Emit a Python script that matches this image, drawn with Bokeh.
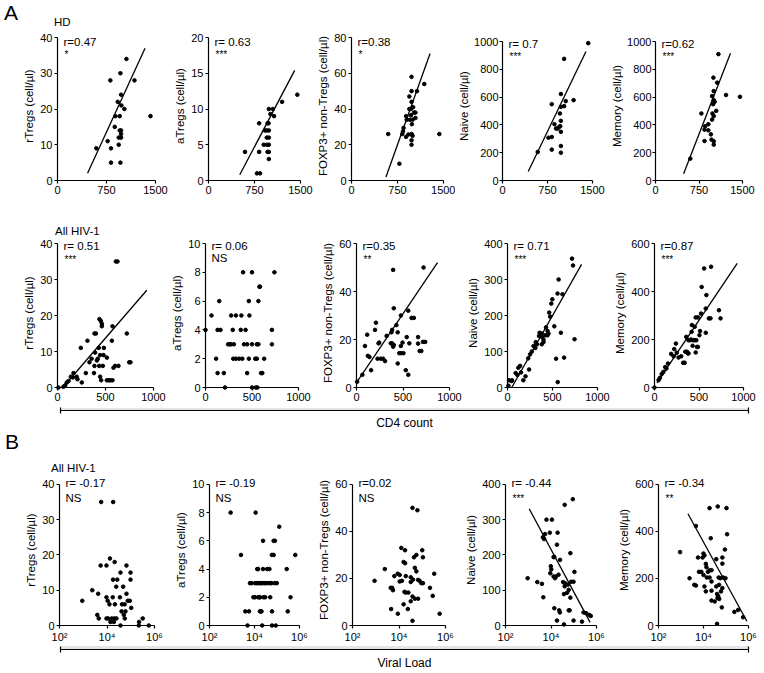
from bokeh.plotting import figure
from bokeh.layouts import row, column
from bokeh.models import Range1d, FixedTicker, Label, CustomJSTickFormatter, Div
from bokeh.embed import file_html
from bokeh.resources import INLINE

FONT = "Liberation Sans"

# ---------------- data ----------------
ylabels = ["rTregs (cell/µl)", "aTregs (cell/µl)", "FOXP3+ non-Tregs (cell/µl)",
           "Naive (cell/µl)", "Memory (cell/µl)"]
xticks_hd = [0, 750, 1500]
xticks_hiv = [0, 500, 1000]
xticks_vl = [1e2, 1e4, 1e6]
yticks_hd = [[0, 10, 20, 30, 40], [0, 5, 10, 15, 20], [0, 20, 40, 60, 80],
             [0, 200, 400, 600, 800, 1000], [0, 200, 400, 600, 800, 1000]]
yticks_hiv = [[0, 10, 20, 30, 40], [0, 2, 4, 6, 8, 10], [0, 20, 40, 60],
              [0, 100, 200, 300, 400], [0, 200, 400, 600]]

r_hd = ["r=0.47", "r= 0.63", "r=0.38", "r= 0.7", "r=0.62"]
sig_hd = ["*", "***", "*", "***", "***"]
r_cd4 = ["r= 0.51", "r= 0.06", "r=0.35", "r= 0.71", "r=0.87"]
sig_cd4 = ["***", "NS", "**", "***", "***"]
r_vl = ["r= -0.17", "r= -0.19", "r=0.02", "r= -0.44", "r= -0.34"]
sig_vl = ["NS", "NS", "NS", "***", "**"]

# HD: (CD4 count, cells/ul)
hd_rtregs = [(1055, 34), (809, 28), (1178, 28), (963, 30), (973, 24), (922, 22), (978, 21), (1024, 20),
             (886, 18), (952, 18), (1423, 18), (876, 15), (952, 14), (973, 14), (973, 13), (937, 12),
             (973, 12), (937, 10), (768, 11), (594, 9), (819, 9), (819, 5), (963, 5)]
hd_atregs = [(1448, 12), (1200, 11), (984, 10), (1050, 10), (1010, 9.3), (1069, 9), (826, 8), (963, 8),
             (980, 8), (920, 7), (950, 7), (984, 7), (950, 6), (984, 6), (900, 5), (950, 5), (984, 5),
             (595, 4), (826, 4), (963, 4), (984, 4), (984, 3), (790, 1), (840, 1)]
hd_foxp3 = [(979, 58), (979, 50), (1068, 50), (1187, 54), (943, 47), (979, 44), (943, 40), (969, 40),
            (1005, 41), (1020, 38), (1042, 38), (969, 36.5), (890, 36), (900, 34), (950, 34), (995, 34),
            (1042, 35), (984, 31.5), (849, 29.4), (839, 27.5), (979, 26), (995, 25), (828, 26),
            (927, 25.7), (890, 24.4), (599, 26), (1432, 26), (979, 22.5), (979, 20), (781, 9.4)]
hd_naive = [(1429, 988), (1027, 875), (821, 549), (973, 622), (1185, 578), (1054, 571), (1027, 535),
            (973, 530), (957, 482), (973, 429), (866, 405), (893, 374), (920, 374), (946, 386),
            (962, 391), (766, 308), (821, 313), (973, 350), (973, 248), (821, 222), (973, 200), (587, 205)]
hd_memory = [(1085, 909), (998, 740), (1064, 704), (1216, 615), (1456, 602), (1004, 643), (976, 607),
             (1004, 578), (1020, 566), (993, 549), (791, 482), (982, 482), (1004, 463), (1047, 501),
             (976, 438), (911, 405), (845, 366), (856, 390), (911, 361), (955, 332), (966, 294),
             (845, 284), (1004, 282), (1004, 258), (600, 157)]

# All HIV-1 vs CD4 count
cd4_rtregs = [(608, 35), (625, 35), (437, 19), (451, 18.5), (462, 17.7), (462, 17), (573, 17), (722, 15),
              (385, 15), (400, 15), (566, 13), (312, 13), (243, 11), (430, 11), (483, 11), (392, 9.7),
              (444, 9), (479, 9), (333, 7), (355, 8), (385, 6), (410, 7.5), (514, 8.3), (747, 7),
              (760, 7), (600, 6), (635, 6), (583, 5.5), (434, 6), (472, 6), (295, 4), (444, 3),
              (455, 2), (514, 2), (535, 2), (552, 2), (573, 2), (167, 4), (200, 3), (139, 3),
              (160, 2.8), (115, 1.8), (97, 1.4), (80, 0.6), (253, 1.4), (208, 2.3), (62, 0.2),
              (10, 0), (380, 4), (420, 8)]
cd4_atregs = [(0, 4), (65, 5), (148, 6), (130, 4), (161, 4), (114, 2), (130, 1), (197, 1), (210, 0),
              (276, 5), (327, 5), (386, 5), (472, 5), (293, 4), (379, 4), (431, 4), (243, 3), (260, 3),
              (276, 3), (305, 3), (414, 3), (448, 3), (500, 3), (552, 3), (298, 2), (327, 2), (362, 2),
              (396, 2), (466, 2), (535, 2), (466, 6), (569, 6), (448, 1), (404, 8), (580, 7), (500, 8),
              (741, 8), (586, 7), (714, 4), (569, 3), (714, 3), (552, 2), (631, 2), (597, 1), (611, 1),
              (500, 0), (541, 0), (558, 0)]
cd4_foxp3 = [(721, 50), (394, 49), (401, 33), (557, 32), (477, 30), (209, 27), (199, 24), (376, 23),
             (383, 24), (617, 29), (592, 29), (429, 26), (443, 23), (115, 22), (237, 18.4), (244, 18.7),
             (369, 18.4), (383, 18.4), (495, 18.7), (477, 17.3), (91, 17.3), (540, 21), (568, 18.4),
             (662, 21), (662, 18.3), (122, 13.2), (139, 12.7), (226, 12), (286, 12), (307, 11),
             (460, 14.3), (480, 14.3), (505, 14.3), (679, 15.2), (697, 15.2), (714, 19), (739, 19),
             (443, 10), (530, 7.2), (557, 5.3), (157, 7.2), (63, 5.3), (7, 2.4), (394, 17), (401, 17.7),
             (324, 21.5), (260, 12)]
cd4_naive = [(717, 358), (728, 339), (568, 300), (611, 259), (556, 261), (498, 245), (487, 233),
             (463, 208), (474, 197), (357, 152), (370, 145), (385, 140), (350, 143), (400, 133),
             (420, 145), (445, 145), (455, 150), (289, 115), (314, 126), (251, 92), (230, 81), (150, 42),
             (110, 35), (200, 31), (240, 50), (18, 20), (50, 20), (540, 80), (629, 83), (558, 15),
             (745, 134), (593, 152), (428, 167), (445, 157), (381, 120), (400, 126), (328, 120),
             (176, 20), (46, 18), (10, 5), (140, 60), (120, 55), (90, 40), (270, 100), (310, 110),
             (520, 170), (380, 150)]
cd4_memory = [(636, 503), (558, 496), (530, 419), (583, 385), (724, 322), (742, 288), (576, 329),
              (611, 288), (629, 288), (523, 308), (463, 292), (488, 292), (417, 232), (452, 253),
              (382, 197), (399, 197), (435, 197), (452, 197), (470, 197), (512, 235), (477, 169),
              (488, 169), (428, 174), (346, 149), (364, 149), (375, 142), (382, 142), (463, 146),
              (322, 103), (339, 103), (240, 183), (222, 160), (215, 130), (250, 145), (187, 140),
              (152, 100), (134, 79), (99, 65), (81, 56), (46, 31), (0, 0), (576, 228), (505, 218),
              (357, 211), (300, 130), (270, 125), (420, 260), (410, 200), (120, 85), (60, 40)]

# All HIV-1 vs viral load
vl_rtregs = [(5690, 35), (18200, 35), (5400, 17), (9500, 17), (13300, 19), (21000, 18), (66000, 17),
             (98000, 15), (37000, 15), (18000, 13), (27000, 13), (98000, 13), (24500, 11), (48000, 11),
             (2400, 10), (4260, 9), (9500, 8), (10700, 7), (17400, 8), (66000, 9), (75000, 7),
             (91000, 7), (105000, 5), (910, 7), (12700, 6), (21500, 6), (43000, 6), (55000, 6),
             (41000, 4), (51000, 3), (56000, 2), (3900, 3), (4500, 2), (9500, 2), (11200, 2),
             (15900, 2), (20700, 2), (25000, 2), (14000, 1), (19400, 1), (37000, 0), (224000, 1),
             (320000, 2), (218000, 0), (575000, 0), (60000, 4), (35000, 8)]
vl_atregs = [(870, 8), (11200, 8), (2500, 5), (13200, 4), (6300, 3), (7400, 3), (10500, 3), (12500, 3),
             (14800, 3), (17400, 3), (8900, 2), (10500, 2), (17400, 2), (3900, 1), (5700, 1), (17400, 1),
             (4900, 0), (126000, 7), (24000, 6), (71000, 6), (81000, 6), (59000, 5), (71000, 5),
             (650000, 5), (14500, 4), (24000, 4), (36500, 4), (46000, 4), (270000, 4), (20000, 3),
             (23000, 3), (29000, 3), (32000, 3), (40000, 3), (50000, 3), (57000, 3), (79000, 3),
             (98000, 3), (14500, 2), (17000, 2), (25000, 2), (30000, 2), (50000, 2), (400000, 2),
             (19000, 1), (20500, 1), (60000, 1), (300000, 1), (22000, 0), (60000, 0), (88000, 0)]
vl_foxp3 = [(38000, 50), (62000, 49), (12600, 33), (18200, 32), (100000, 32), (107000, 29), (44000, 29),
            (56000, 30), (15800, 27), (18300, 26.5), (2450, 24), (48000, 24.5), (56000, 23),
            (327000, 22), (8800, 22), (10700, 21.5), (6300, 21), (19500, 21), (32000, 20.5),
            (66000, 19.4), (77000, 19), (890, 19), (13400, 19), (10700, 18.7), (32000, 18.5),
            (40000, 19.5), (91000, 18), (107000, 18), (4400, 16), (5100, 16), (215000, 16), (5500, 15),
            (17200, 14.3), (19500, 14), (25300, 14), (282000, 12.6), (38000, 12.3), (48000, 11.4),
            (66000, 11.4), (32000, 10.3), (15800, 9), (4600, 7), (24000, 7), (8900, 5), (560000, 5),
            (38000, 2)]
vl_naive = [(91000, 358), (40000, 342), (6300, 300), (11000, 300), (8900, 263), (5500, 259), (5000, 245),
            (4400, 250), (19500, 263), (18300, 229), (13000, 194), (14000, 194), (25000, 186),
            (71000, 205), (9800, 168), (10300, 159), (9300, 148), (13000, 139), (16600, 139),
            (15000, 134), (21500, 144), (107000, 152), (34000, 123), (41000, 120), (77000, 124),
            (98000, 124), (940, 134), (2500, 123), (4000, 118), (40000, 111), (56000, 116), (60000, 101),
            (51000, 93), (37000, 89), (71000, 79), (4600, 80), (14000, 49), (23000, 43), (24500, 37),
            (60000, 43), (66000, 43), (270000, 37), (345000, 35), (480000, 30), (560000, 27),
            (18300, 14), (98000, 14), (230000, 11), (37000, 3)]
vl_memory = [(18600, 499), (43000, 506), (105000, 499), (112000, 388), (4600, 423), (910, 312),
             (21000, 371), (89000, 323), (9100, 289), (10000, 306), (11000, 298), (5700, 289),
             (69000, 289), (37000, 282), (12700, 262), (13500, 248), (69000, 263), (18600, 235),
             (22700, 235), (15800, 228), (6300, 228), (8000, 228), (10000, 215), (14000, 204),
             (18600, 204), (2400, 201), (47000, 204), (56000, 201), (75000, 204), (95000, 201),
             (3900, 173), (4600, 170), (11000, 166), (12700, 145), (22700, 187), (37000, 166),
             (49000, 173), (69000, 159), (60000, 145), (22700, 148), (40000, 134), (45000, 125),
             (42000, 117), (50000, 113), (22700, 106), (31600, 102), (65000, 77), (235000, 58),
             (346000, 66), (575000, 35), (40000, 7)]

# regression line end points: (x pair, y pair)
fit_hd = [([460, 1340], [2, 37]), ([510, 1405], [0.8, 15.4]), ([562, 1281], [2, 71]),
          ([429, 1391], [65, 928]), ([485, 1293], [48, 916])]
fit_cd4 = [([55, 930], [0, 27]), None, ([0, 871], [2, 52]), ([47, 823], [0, 342]), ([28, 929], [19, 517])]
fit_vl = [None, None, None, ([1100, 525000], [331, 9]), ([2040, 850000], [475, 18])]

# ---------------- layout geometry ----------------
# (width, height, left, right, bottom, axis height in px)
geo_r1 = [(171, 171, 57, 16, 22, 143), (143, 171, 34, 14, 22, 143), (141, 171, 34, 12, 22, 143),
          (153, 171, 43, 16, 22, 139), (154, 171, 43, 20, 22, 139)]
geo_r2 = [(168, 169, 57, 15, 20, 144), (151, 169, 34, 21, 20, 144), (145, 169, 34, 15, 20, 144),
          (147, 169, 38, 14, 20, 144), (151, 169, 38, 19, 20, 144)]
geo_r3 = [(172, 171, 59, 18, 18, 143), (143, 171, 34, 16, 18, 143), (147, 171, 34, 17, 18, 143),
          (153, 171, 38, 19, 18, 143), (147, 171, 38, 14, 18, 143)]

SUP = CustomJSTickFormatter(code="""
const e = Math.round(Math.log10(tick));
const s = {2: '\u00b2', 3: '\u00b3', 4: '\u2074', 5: '\u2075', 6: '\u2076'};
return '10' + (s[e] || '');
""")


def style_axis(ax, s1=2, s2=2):
    ax.axis_line_color = "black"
    ax.axis_line_width = 1.2
    ax.major_tick_line_color = "black"
    ax.major_tick_line_width = 1.2
    ax.major_tick_in = 0
    ax.major_tick_out = 3
    ax.minor_tick_line_color = None
    ax.major_label_text_font = FONT
    ax.major_label_text_font_size = "11px"
    ax.major_label_text_color = "black"
    ax.major_label_standoff = s1
    ax.axis_label_text_font = FONT
    ax.axis_label_text_font_size = "11.5px"
    ax.axis_label_text_font_style = "normal"
    ax.axis_label_text_color = "black"
    ax.axis_label_standoff = s2


def add_text(p, x, y, text, size="11.5px"):
    p.add_layout(Label(x=x, y=y, x_units="screen", y_units="screen", text=text,
                       text_font=FONT, text_font_size=size, text_color="black",
                       text_baseline="middle", text_align="left"))


def make_panel(geo, xr, xt, xlog, yt, ylab, pts, fit, rtxt, sig, r_y, a_y, n_y, std=2):
    w, h, l, r, b, ax_px = geo
    fh = h - b
    ytop = yt[-1] * fh / ax_px          # frame reaches a little above the top tick
    p = figure(width=w, height=h, title=None, output_backend="svg", toolbar_location=None,
               x_axis_type="log" if xlog else "linear",
               x_range=Range1d(*xr), y_range=Range1d(yt[0], ytop),
               min_border_left=l, min_border_right=r, min_border_top=0, min_border_bottom=b)
    p.outline_line_color = None
    p.xgrid.visible = False
    p.ygrid.visible = False
    p.background_fill_color = "white"
    p.border_fill_color = "white"
    if fit is not None:
        p.line(fit[0], fit[1], line_color="black", line_width=1.3)
    p.scatter([q[0] for q in pts], [q[1] for q in pts], size=3.6, color="black",
              line_color="black", level="overlay")
    style_axis(p.xaxis[0])
    style_axis(p.yaxis[0], std, std)
    p.xaxis.ticker = FixedTicker(ticks=xt)
    if xlog:
        p.xaxis.formatter = SUP
    p.yaxis.ticker = FixedTicker(ticks=yt)
    p.yaxis.bounds = (yt[0], yt[-1])
    p.yaxis.axis_label = ylab
    add_text(p, 6, r_y, rtxt)
    if sig == "NS":
        add_text(p, 6, n_y, sig)
    else:
        add_text(p, 7, a_y, sig, "10px")
    return p


def make_bracket(w, h, l, r, fh, label, std):
    p = figure(width=w, height=h, title=None, output_backend="svg", toolbar_location=None,
               x_range=Range1d(0, 1), y_range=Range1d(0, 1), y_axis_location=None,
               min_border_left=l, min_border_right=r, min_border_top=0, min_border_bottom=h - fh)
    p.outline_line_color = None
    p.background_fill_color = "white"
    p.border_fill_color = "white"
    p.xgrid.visible = False
    ax = p.xaxis[0]
    style_axis(ax, 0, std)
    ax.ticker = FixedTicker(ticks=[], minor_ticks=[0, 1])
    ax.major_tick_line_color = None
    ax.minor_tick_line_color = "black"
    ax.minor_tick_line_width = 1.2
    ax.minor_tick_in = 3
    ax.minor_tick_out = 3
    ax.axis_label = label
    ax.axis_label_text_font_size = "12px"
    return p


def text_div(w, h, items):
    spans = "".join(
        f'<span style="position:absolute;left:{x}px;top:{y}px;font-family:\'{FONT}\';'
        f'font-size:{s}px;line-height:1;color:#000;white-space:nowrap;">{t}</span>'
        for (t, x, y, s) in items)
    html = f'<div style="position:relative;width:{w}px;height:{h}px;overflow:visible;">{spans}</div>'
    return Div(text=html, width=w, height=h, margin=(0, 0, 0, 0))


# ---- row 1: HD (frame bottom at 180) ----
row1 = []
for i in range(5):
    std = 1 if i >= 3 else 2
    r_y = 139 if i < 3 else 137
    a_y = 126 if i < 3 else 124
    row1.append(make_panel(geo_r1[i], (0, 1500), xticks_hd, False, yticks_hd[i], ylabels[i],
                           [hd_rtregs, hd_atregs, hd_foxp3, hd_naive, hd_memory][i], fit_hd[i],
                           r_hd[i], sig_hd[i], r_y, a_y, 126, std))

# ---- row 2: All HIV-1 vs CD4 (frame bottom at 387) ----
row2 = []
for i in range(5):
    row2.append(make_panel(geo_r2[i], (0, 1000), xticks_hiv, False, yticks_hiv[i], ylabels[i],
                           [cd4_rtregs, cd4_atregs, cd4_foxp3, cd4_naive, cd4_memory][i], fit_cd4[i],
                           r_cd4[i], sig_cd4[i], 141.5, 128, 129.2))

# ---- row 3: All HIV-1 vs viral load (frame bottom at 627) ----
row3 = []
for i in range(5):
    row3.append(make_panel(geo_r3[i], (1e2, 1e6), xticks_vl, True, yticks_hiv[i], ylabels[i],
                           [vl_rtregs, vl_atregs, vl_foxp3, vl_naive, vl_memory][i], fit_vl[i],
                           r_vl[i], sig_vl[i], 142.7, 127.5, 128))

W = 762
head1 = text_div(W, 31, [("A", 4, 2.3, 21), ("HD", 54, 17.4, 11.5)])
head2 = text_div(W, 36, [("All HIV-1", 55, 24.4, 11.5)])
head3 = text_div(W, 42, [("B", 5, -1.2, 21), ("All HIV-1", 51, 30.7, 11.5)])

br1 = make_bracket(W, 25, 57, W - 748, 5, "CD4 count", 2)
br2 = make_bracket(W, 27, 60, W - 751, 7, "Viral Load", 3)

layout = column(head1, row(*row1, spacing=0), head2, row(*row2, spacing=0), br1,
                head3, row(*row3, spacing=0), br2, spacing=0)

open("out.html", "w").write(file_html(layout, INLINE))
